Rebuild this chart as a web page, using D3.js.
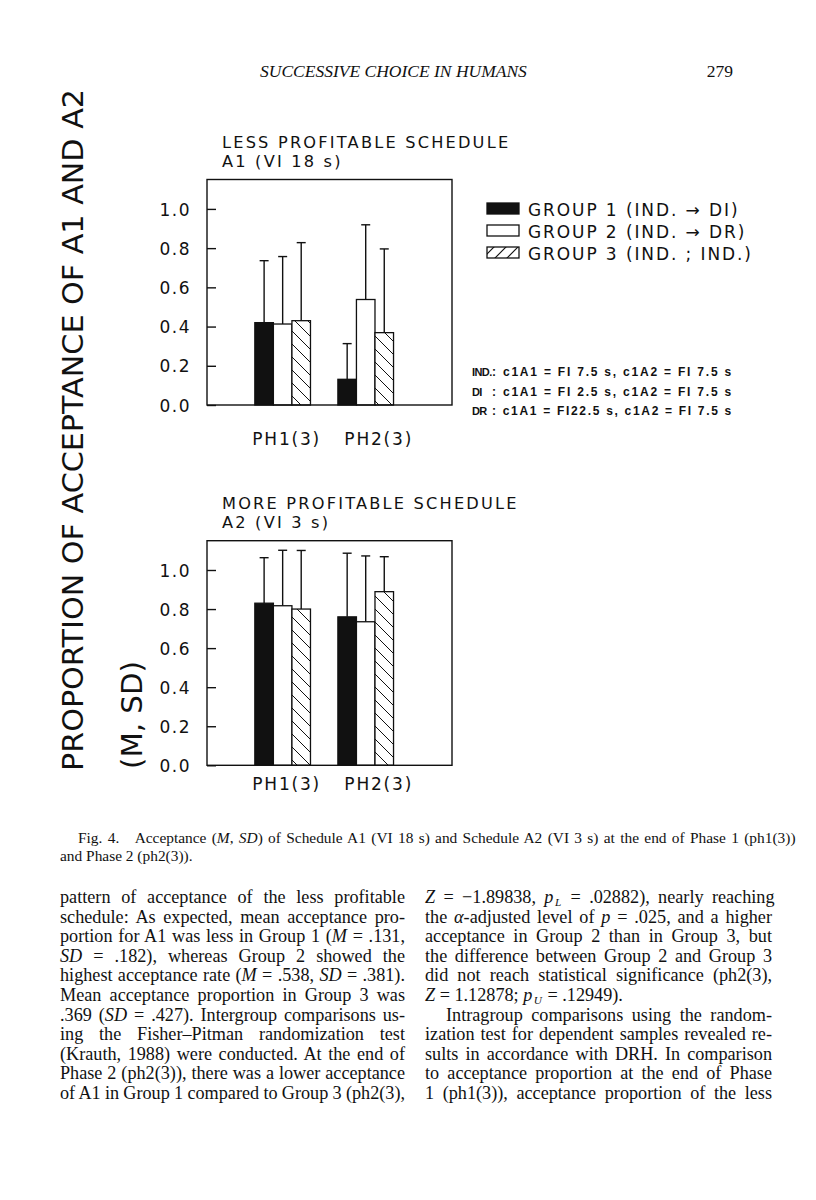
<!DOCTYPE html>
<html>
<head>
<meta charset="utf-8">
<script src="https://cdn.jsdelivr.net/npm/d3@7"></script>
<style>
  html, body { margin: 0; padding: 0; background: #fff; }
  svg { display: block; }
</style>
</head>
<body>
<div id="page"></div>
<script>
// ---- chart data ----
const phases = ['PH1(3)', 'PH2(3)'];
const groups = ['GROUP 1 (IND. \u2192 DI)', 'GROUP 2 (IND. \u2192 DR)', 'GROUP 3 (IND. ; IND.)'];
const groupFills = ['#111', '#fff', 'url(#hatch)'];
const yTicks = [0, 0.2, 0.4, 0.6, 0.8, 1.0];

// A1 (less profitable), rows = phase, cols = group
const lessMeans = [[0.42, 0.413, 0.43], [0.131, 0.538, 0.369]];
const lessSDs   = [[0.316, 0.344, 0.398], [0.182, 0.381, 0.427]];
// A2 (more profitable)
const moreMeans = [[0.83, 0.817, 0.80], [0.76, 0.735, 0.889]];
const moreSDs   = [[0.233, 0.284, 0.30], [0.326, 0.337, 0.179]];

const notes = [
  ['IND.', ': c1A1 = FI 7.5 s, c1A2 = FI 7.5 s'],
  ['DI', ': c1A1 = FI 2.5 s, c1A2 = FI 7.5 s'],
  ['DR', ': c1A1 = FI22.5 s, c1A2 = FI 7.5 s']
];

// ---- page text ----
const caption = [
  'Fig. 4.\u2003Acceptance (*M*, *SD*) of Schedule A1 (VI 18 s) and Schedule A2 (VI 3 s) at the end of Phase 1 (ph1(3))',
  'and Phase 2 (ph2(3)).'
];
const leftCol = [
  'pattern of acceptance of the less profitable',
  'schedule: As expected, mean acceptance pro-',
  'portion for A1 was less in Group 1 (*M* = .131,',
  '*SD* = .182), whereas Group 2 showed the',
  'highest acceptance rate (*M* = .538, *SD* = .381).',
  'Mean acceptance proportion in Group 3 was',
  '.369 (*SD* = .427). Intergroup comparisons us-',
  'ing the Fisher\u2013Pitman randomization test',
  '(Krauth, 1988) were conducted. At the end of',
  'Phase 2 (ph2(3)), there was a lower acceptance',
  'of A1 in Group 1 compared to Group 3 (ph2(3),'
];
const rightCol = [
  '*Z* = \u22121.89838, *p*~L~ = .02882), nearly reaching',
  'the *\u03b1*-adjusted level of *p* = .025, and a higher',
  'acceptance in Group 2 than in Group 3, but',
  'the difference between Group 2 and Group 3',
  'did not reach statistical significance (ph2(3),',
  '*Z* = 1.12878; *p*~U~ = .12949).',
  'Intragroup comparisons using the random-',
  'ization test for dependent samples revealed re-',
  'sults in accordance with DRH. In comparison',
  'to acceptance proportion at the end of Phase',
  '1 (ph1(3)), acceptance proportion of the less'
];

const W = 816, H = 1200;
const ink = '#111';
const sans = '"DejaVu Sans", sans-serif';
const serif = '"Liberation Serif", "Times New Roman", serif';

const svg = d3.select('#page').append('svg')
  .attr('width', W).attr('height', H);

const defs = svg.append('defs');
const hatch = defs.append('pattern')
  .attr('id', 'hatch').attr('patternUnits', 'userSpaceOnUse')
  .attr('width', 13).attr('height', 13);
hatch.append('rect').attr('width', 13).attr('height', 13).attr('fill', '#fff');
hatch.append('path').attr('d', 'M0,0L13,13M-3,10L3,16M10,-3L16,3')
  .attr('stroke', ink).attr('stroke-width', 1);
const hatchL = defs.append('pattern')
  .attr('id', 'hatchL').attr('patternUnits', 'userSpaceOnUse')
  .attr('x', 487).attr('width', 12).attr('height', 12);
hatchL.append('rect').attr('width', 12).attr('height', 12).attr('fill', '#fff');
hatchL.append('path').attr('d', 'M0,12L12,0M-3,3L3,-3M9,15L15,9')
  .attr('stroke', ink).attr('stroke-width', 1.2);

// ---- panels ----
const frameX0 = 207, frameX1 = 452;
const panels = [
  { title: ['LESS PROFITABLE SCHEDULE', 'A1 (VI 18 s)'], means: lessMeans, sds: lessSDs, y0: 405, y1: 179.5, labelY: 445 },
  { title: ['MORE PROFITABLE SCHEDULE', 'A2 (VI 3 s)'], means: moreMeans, sds: moreSDs, y0: 765.3, y1: 540.7, labelY: 790 }
];

const x = d3.scaleBand().domain(phases).range([frameX0, frameX1])
  .paddingInner(0.33).paddingOuter(0.64).align(0.45);
const xg = d3.scaleBand().domain(d3.range(groups.length)).range([0, x.bandwidth()]);

panels.forEach(p => {
  const y = d3.scaleLinear().domain([0, 1.15]).range([p.y0, p.y1]);
  const g = svg.append('g');

  // two-line panel title
  g.selectAll('text.ptitle').data(p.title).enter().append('text')
    .attr('class', 'ptitle')
    .attr('x', 222).attr('y', (d, i) => p.y1 - 31.5 + i * 18.9)
    .attr('font-family', sans).attr('font-size', 16.2)
    .attr('letter-spacing', 2.2).attr('fill', ink)
    .text(d => d);

  // bars with SD whiskers
  const rows = p.means.flatMap((row, i) => row.map((m, j) => ({ ph: phases[i], gi: j, m, sd: p.sds[i][j] })));
  const cx = d => x(d.ph) + xg(d.gi) + xg.bandwidth() / 2;
  const bars = g.selectAll('g.bar').data(rows).enter().append('g').attr('class', 'bar');
  bars.append('line')
    .attr('x1', cx).attr('x2', cx)
    .attr('y1', d => y(d.m)).attr('y2', d => y(d.m + d.sd))
    .attr('stroke', ink).attr('stroke-width', 1.4);
  bars.append('line')
    .attr('x1', d => cx(d) - 4.5).attr('x2', d => cx(d) + 4.5)
    .attr('y1', d => y(d.m + d.sd)).attr('y2', d => y(d.m + d.sd))
    .attr('stroke', ink).attr('stroke-width', 1.4);
  bars.append('rect')
    .attr('x', d => x(d.ph) + xg(d.gi))
    .attr('y', d => y(d.m))
    .attr('width', xg.bandwidth())
    .attr('height', d => y(0) - y(d.m))
    .attr('fill', d => groupFills[d.gi])
    .attr('stroke', ink).attr('stroke-width', 1.3);

  // frame
  g.append('rect')
    .attr('x', frameX0).attr('y', p.y1)
    .attr('width', frameX1 - frameX0).attr('height', p.y0 - p.y1)
    .attr('fill', 'none').attr('stroke', ink).attr('stroke-width', 1.4);

  // y axis (ticks point inward)
  const ya = g.append('g').attr('transform', `translate(${frameX0},0)`)
    .call(d3.axisLeft(y).tickValues(yTicks).tickFormat(d3.format('.1f'))
      .tickSizeInner(-9).tickSizeOuter(0).tickPadding(16));
  ya.select('.domain').remove();
  ya.selectAll('line').attr('stroke', ink).attr('stroke-width', 1.4);
  ya.selectAll('text').attr('font-family', sans).attr('font-size', 17)
    .attr('letter-spacing', 1.5).attr('fill', ink).attr('dy', '0.36em');

  // x labels
  const xa = g.append('g').attr('transform', `translate(0,${p.labelY})`)
    .call(d3.axisBottom(x).tickSize(0).tickPadding(0));
  xa.select('.domain').remove();
  xa.selectAll('text').attr('font-family', sans).attr('font-size', 17)
    .attr('letter-spacing', 1.8).attr('fill', ink).attr('dy', 0)
    .attr('dx', (d, i) => [4, 13][i]);
});

// ---- y title ----
const yTitle = svg.append('g').attr('font-family', sans).attr('fill', ink);
yTitle.append('text')
  .attr('transform', 'translate(83,771) rotate(-90)')
  .attr('font-size', 28)
  .attr('textLength', 682).attr('lengthAdjust', 'spacingAndGlyphs')
  .text('PROPORTION OF ACCEPTANCE OF A1 AND A2');
yTitle.append('text')
  .attr('transform', 'translate(142,769) rotate(-90)')
  .attr('font-size', 28)
  .attr('textLength', 108).attr('lengthAdjust', 'spacingAndGlyphs')
  .text('(M, SD)');

// ---- legend ----
const leg = svg.append('g').attr('transform', 'translate(487,203)');
const legRow = leg.selectAll('g').data(groups).enter().append('g')
  .attr('transform', (d, i) => `translate(0,${i * 22})`);
legRow.append('rect').attr('width', 32).attr('height', 11)
  .attr('fill', (d, i) => i === 2 ? 'url(#hatchL)' : groupFills[i])
  .attr('stroke', ink).attr('stroke-width', 1.3);
legRow.append('text').attr('x', 41).attr('y', 13)
  .attr('font-family', sans).attr('font-size', 17)
  .attr('letter-spacing', 1.9).attr('fill', ink)
  .text(d => d);

// ---- schedule notes (label + definition in one text) ----
const nt = svg.append('g').attr('font-family', '"Liberation Sans", Arial, sans-serif')
  .attr('font-size', 12).attr('font-weight', 'bold').attr('fill', ink);
nt.selectAll('text').data(notes).enter().append('text')
  .attr('x', 472).attr('y', (d, i) => 376 + i * 19.7)
  .each(function (d) {
    const t = d3.select(this);
    t.append('tspan').attr('font-size', 11).attr('letter-spacing', -0.6).text(d[0]);
    const rest = t.append('tspan').attr('x', 492).text(d[1]);
    const natural = rest.node().getComputedTextLength();
    rest.attr('letter-spacing', (241 - natural) / d[1].length);
  });

// ---- header ----
svg.append('text').attr('x', 260).attr('y', 77)
  .attr('font-family', serif).attr('font-style', 'italic').attr('font-size', 17.5)
  .attr('fill', ink).text('SUCCESSIVE CHOICE IN HUMANS');
svg.append('text').attr('x', 733).attr('y', 77).attr('text-anchor', 'end')
  .attr('font-family', serif).attr('font-size', 17.5)
  .attr('fill', ink).text('279');

// ---- rich text lines (*italic*, ~subscript~) ----
function richLine(sel, str, fontSize) {
  const parts = str.split(/(\*[^*]+\*|~[^~]+~)/).filter(s => s.length);
  let shifted = false;
  const sub = fontSize * 0.17;
  parts.forEach(s => {
    const t = sel.append('tspan');
    if (s.startsWith('*')) {
      t.attr('font-style', 'italic').text(s.slice(1, -1));
    } else if (s.startsWith('~')) {
      t.attr('font-style', 'italic').attr('font-size', fontSize * 0.62)
        .attr('dx', 1.5).attr('dy', sub).text(s.slice(1, -1));
      shifted = true;
      return;
    } else {
      t.text(s);
    }
    if (shifted) { t.attr('dx', 1).attr('dy', -sub); shifted = false; }
  });
}
function justify(sel, width) {
  const node = sel.node();
  const natural = node.getComputedTextLength();
  const spaces = (node.textContent.match(/[ \u2003]/g) || []).length;
  if (spaces) sel.style('word-spacing', ((width - natural) / spaces) + 'px');
}

function textBlock(lines, x0, y0, lh, width, size, opts) {
  lines.forEach((ln, i) => {
    const indent = (opts.indent && opts.indent[i]) || 0;
    const t = svg.append('text')
      .attr('x', x0 + indent).attr('y', y0 + i * lh)
      .attr('font-family', serif).attr('font-size', size).attr('fill', ink)
      .attr('xml:space', 'preserve');
    richLine(t, ln, size);
    if (!opts.ragged.includes(i)) justify(t, width - indent);
  });
}

textBlock(caption, 62, 843, 17.5, 735, 15.4, { ragged: [1], indent: { 0: 16, 1: -2 } });
textBlock(leftCol, 60, 903, 19.6, 345, 18.2, { ragged: [] });
textBlock(rightCol, 425, 903, 19.6, 347, 18.2, { ragged: [5], indent: { 6: 21 } });
</script>
</body>
</html>
